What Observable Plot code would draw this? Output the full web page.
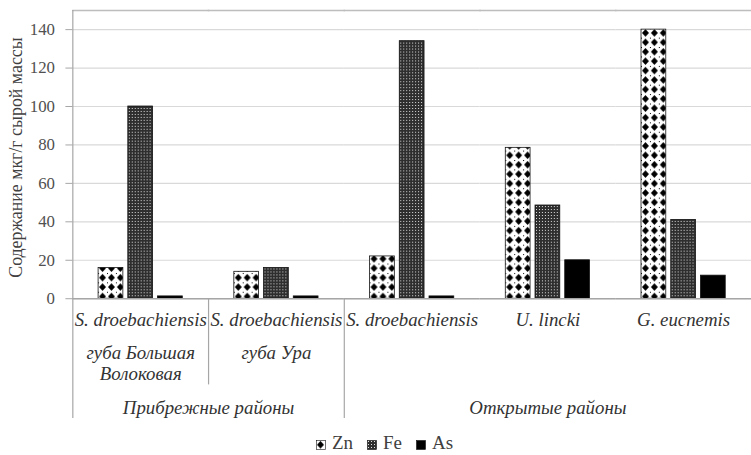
<!DOCTYPE html>
<html>
<head>
<meta charset="utf-8">
<script src="https://cdn.jsdelivr.net/npm/d3@7"></script>
<script src="https://cdn.jsdelivr.net/npm/@observablehq/plot@0.6"></script>
<style>
  html, body { margin: 0; padding: 0; background: #fff; overflow: hidden; width: 751px; height: 455px; }
  #legend { margin-top: 3px; height: 23px; line-height: 23px; font-family: 'Liberation Serif', 'DejaVu Serif', serif; font-size: 19px; color: #404040; white-space: nowrap; padding-left: 18px; text-align: center; }
  #legend svg { vertical-align: -1px; margin-right: 6px; }
  #legend span { margin: 0 7px; }
  svg text { font-family: 'Liberation Serif', 'DejaVu Serif', serif; }
</style>
</head>
<body>
<svg width="0" height="0" style="position:absolute">
  <defs>
    <pattern id="pZn" patternUnits="userSpaceOnUse" width="9" height="9.5">
      <rect width="9" height="9.5" fill="#fff"/>
      <polygon points="4.5,1 8,4.75 4.5,8.5 1,4.75" fill="#000"/>
      <rect x="0" y="0" width="1" height="1" fill="#000"/>
    </pattern>
    <pattern id="pFe" patternUnits="userSpaceOnUse" width="3" height="3">
      <rect width="3" height="3" fill="#2e2e2e"/>
      <rect x="1" y="1" width="1" height="1" fill="#e0e0e0"/>
    </pattern>
  </defs>
</svg>
<div id="chart"></div>
<div id="legend"></div>
<script>
// ---- data ----
const groups = ["S. droebachiensis", "S. droebachiensis", "S. droebachiensis", "U. lincki", "G. eucnemis"];
const sites = ["губа Большая\nВолоковая", "губа Ура", "", "", ""];
const regions = ["Прибрежные районы", "Открытые районы"];
const elements = ["Zn", "Fe", "As"];
const zn = [16, 14, 22, 78.5, 140];
const fe = [100, 16, 134, 48.5, 41];
const as = [1.2, 1.2, 1.2, 20, 12];
const yTicks = [0, 20, 40, 60, 80, 100, 120, 140];
const yLabel = "Содержание мкг/г сырой массы";
const fills = ["url(#pZn)", "url(#pFe)", "#000"];

// ---- table built from arrays ----
const series = {Zn: zn, Fe: fe, As: as};
const rows = [];
groups.forEach((g, i) => elements.forEach(el => rows.push({g: i, el, v: series[el][i]})));
const groupRows = groups.map((name, i) => ({g: i, name, site: sites[i]}));

const serif = "'Liberation Serif', 'DejaVu Serif', serif";
const labelStyle = {fontStyle: "italic", fontSize: 19, fill: "#333", lineAnchor: "middle"};

const plot = Plot.plot({
  width: 758,
  height: 432,
  marginLeft: 73,
  marginRight: 0,
  marginTop: 10,
  marginBottom: 131,
  style: {fontFamily: serif, fontSize: "17px", color: "#404040", background: "transparent"},
  fx: {domain: d3.range(groups.length), padding: 0, axis: null},
  x: {domain: elements, paddingInner: 0.18, paddingOuter: 0.87, axis: null},
  y: {domain: [0, 150], axis: null},
  color: {domain: elements, range: fills},
  marks: [
    Plot.gridY(yTicks, {stroke: "#d9d9d9", strokeOpacity: 1, strokeWidth: 1.2}),
    Plot.frame({anchor: "top", stroke: "#bdbdbd", strokeWidth: 1.5}),
    Plot.barY(rows, {fx: "g", x: "el", y: "v", fill: "el", stroke: "#111", strokeWidth: 0.8}),
    Plot.ruleY([0], {stroke: "#a6a6a6", strokeWidth: 1.5}),
    Plot.axisY(yTicks, {
      tickSize: 7, tickPadding: 11, stroke: "#a6a6a6", fill: "#505050",
      fontSize: 17, label: null
    }),
    // y-axis title
    Plot.text([yLabel], {fx: () => 0, text: d => d, frameAnchor: "left", textAnchor: "middle", lineAnchor: "middle", rotate: -90, dx: -57, dy: 3, fontSize: 18, fill: "#404040"}),
    // left border of the table (axis line extends down)
    Plot.ruleX([0], {fx: d => d, x: null, dx: -68.5, insetTop: 0, insetBottom: -121, stroke: "#a6a6a6", strokeWidth: 1.2}),
    // separator between two coastal sites
    Plot.ruleX([1], {fx: d => d, x: null, dx: -68.5, insetTop: 291, insetBottom: -87, stroke: "#a6a6a6", strokeWidth: 1.2}),
    // separator between coastal and open regions
    Plot.ruleX([2], {fx: d => d, x: null, dx: -68.5, insetTop: 291, insetBottom: -121, stroke: "#a6a6a6", strokeWidth: 1.2}),
    // species labels
    Plot.text(groupRows, {fx: "g", text: "name", frameAnchor: "bottom", dy: 21, ...labelStyle}),
    // site labels
    Plot.text(groupRows, {fx: "g", text: "site", frameAnchor: "bottom", dy: 46, ...labelStyle, lineAnchor: "top", lineHeight: 1.12}),
    // region labels
    Plot.text([regions[0]], {fx: () => 1, text: d => d, frameAnchor: "bottom", dx: -68.5, dy: 110, ...labelStyle}),
    Plot.text([regions[1]], {fx: () => 3, text: d => d, frameAnchor: "bottom", dy: 110, ...labelStyle})
  ]
});
document.getElementById("chart").appendChild(plot);

// legend
const legend = document.getElementById("legend");
elements.forEach((el, i) => {
  const span = document.createElement("span");
  span.innerHTML = `<svg width="10" height="10"><rect x="0.5" y="0.5" width="9" height="9" fill="${fills[i]}" stroke="#111" stroke-width="0.6"/></svg>${el}`;
  legend.appendChild(span);
});
</script>
</body>
</html>
